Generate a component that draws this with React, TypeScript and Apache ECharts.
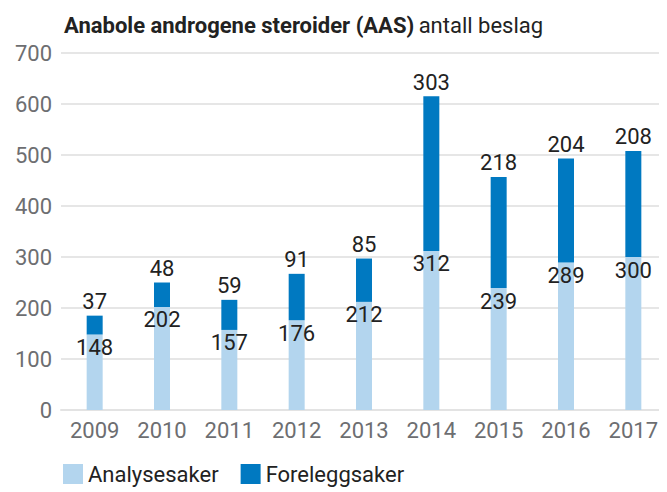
import React, { useEffect, useRef } from "react";
import * as echarts from "echarts";

const years = ["2009", "2010", "2011", "2012", "2013", "2014", "2015", "2016", "2017"];
const analysesaker = [148, 202, 157, 176, 212, 312, 239, 289, 300];
const foreleggsaker = [37, 48, 59, 91, 85, 303, 218, 204, 208];

const FONT = "Roboto";

export default function App() {
  const ref = useRef<HTMLDivElement>(null);
  useEffect(() => {
    if (!ref.current) return;
    const chart = echarts.init(ref.current, undefined, { renderer: "svg" });
    chart.setOption({
      animation: false,
      textStyle: { fontFamily: FONT },
      title: {
        left: 51,
        top: 1,
        text: "{b|Anabole androgene steroider (AAS)} {n|antall beslag}",
        textStyle: {
          rich: {
            b: { fontFamily: FONT, fontWeight: "bold", fontSize: 22, color: "#222" },
            n: { fontFamily: FONT, fontWeight: "normal", fontSize: 22, color: "#222" },
          },
        },
      },
      legend: {
        left: 50,
        bottom: 2,
        itemWidth: 20,
        itemHeight: 20,
        itemGap: 22,
        icon: "rect",
        textStyle: { fontFamily: FONT, fontSize: 22, color: "#222" },
        data: ["Analysesaker", "Foreleggsaker"],
      },
      grid: { left: 53, right: 0, top: 45, bottom: 82, containLabel: false },
      xAxis: {
        type: "category",
        data: years,
        axisTick: { show: false },
        axisLine: { lineStyle: { color: "#e3e3e3", width: 2 } },
        axisLabel: { color: "#6d6e71", fontSize: 22, fontFamily: FONT, margin: 9 },
      },
      yAxis: {
        type: "value",
        min: 0,
        max: 700,
        interval: 100,
        axisLine: { show: false },
        axisTick: { show: false },
        splitLine: { lineStyle: { color: "#e6e6e6", width: 2 } },
        axisLabel: { color: "#6d6e71", fontSize: 22, fontFamily: FONT, margin: 9 },
      },
      series: [
        {
          name: "Analysesaker",
          type: "bar",
          stack: "t",
          barWidth: 16,
          data: analysesaker,
          itemStyle: { color: "#b3d5ee" },
          label: {
            show: true,
            position: "insideTop",
            distance: 2,
            color: "#222",
            fontSize: 22,
            fontFamily: FONT,
          },
        },
        {
          name: "Foreleggsaker",
          type: "bar",
          stack: "t",
          barWidth: 16,
          data: foreleggsaker,
          itemStyle: { color: "#0079c1" },
          label: {
            show: true,
            position: "top",
            distance: 3,
            color: "#222",
            fontSize: 22,
            fontFamily: FONT,
          },
        },
      ],
    });
    return () => chart.dispose();
  }, []);
  return <div ref={ref} style={{ width: 659, height: 484 }} />;
}
